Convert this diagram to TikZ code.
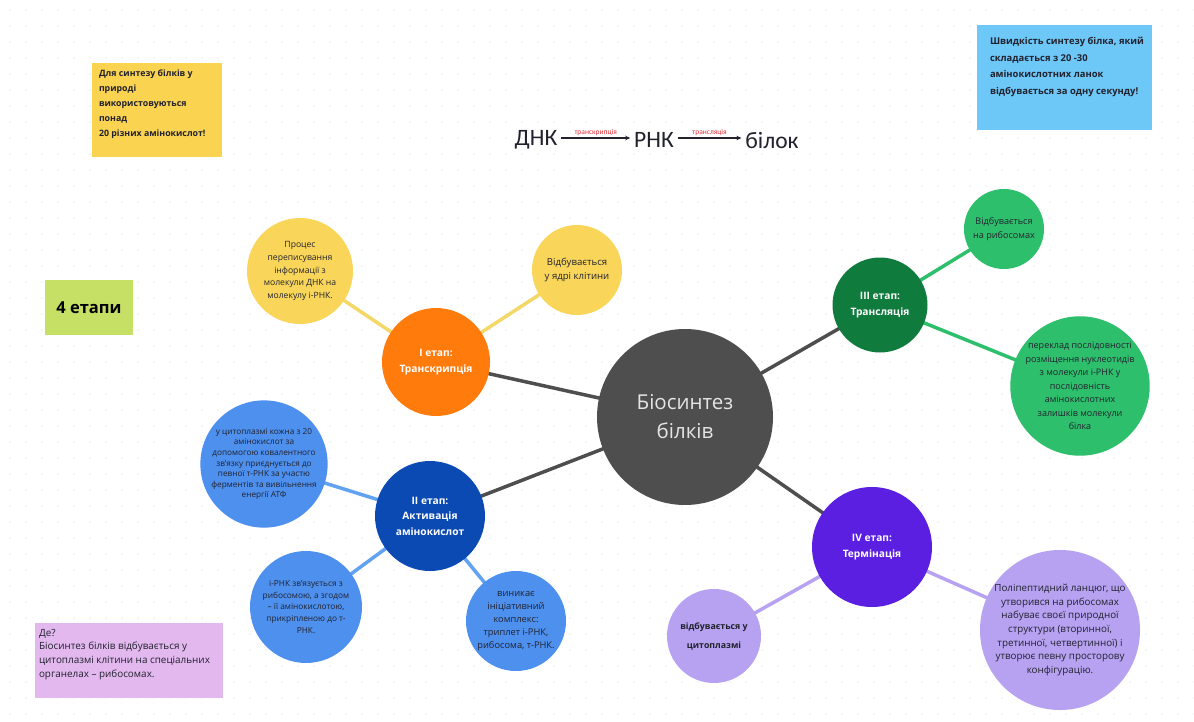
\documentclass[tikz,border=0pt]{standalone}
\usepackage{fontspec}
\setmainfont{Open Sans}
\newfontfamily\formfont{Carlito}
\usetikzlibrary{arrows.meta}
\definecolor{bgdot}{HTML}{DCDCDC}
\definecolor{cgrey}{HTML}{4E4E4E}
\definecolor{corange}{HTML}{FF7B0C}
\definecolor{cyellow}{HTML}{F9D65A}
\definecolor{cyline}{HTML}{F3D867}
\definecolor{cdblue}{HTML}{0B4AB3}
\definecolor{clblue}{HTML}{4D90EE}
\definecolor{clbline}{HTML}{62A2F2}
\definecolor{cdgreen}{HTML}{0F7B3D}
\definecolor{clgreen}{HTML}{2EBF6D}
\definecolor{cpurple}{HTML}{5A1FE0}
\definecolor{clpurple}{HTML}{B6A2F1}
\definecolor{cnoteyellow}{HTML}{FAD350}
\definecolor{cnoteblue}{HTML}{6DC7F7}
\definecolor{cnotelime}{HTML}{C6E066}
\definecolor{cnotepink}{HTML}{E2B8EE}
\definecolor{ctext}{HTML}{22222E}
\definecolor{cred}{HTML}{E0303A}
\pgfdeclarelayer{gridlayer}
\pgfdeclarelayer{edgelayer}
\pgfsetlayers{gridlayer,edgelayer,main}
\begin{document}
\begin{tikzpicture}[x=1pt,y=-1pt,
  every node/.style={inner sep=0pt,outer sep=0pt},
  bubble/.style={circle,minimum size=#1,align=center,text=ctext},
  stagetext/.style={text=white,font=\bfseries\fontsize{10.2}{15.5}\selectfont},
  greyedge/.style={draw=cgrey,line width=3.5pt},
  yedge/.style={draw=cyline,line width=3.5pt},
  bedge/.style={draw=clbline,line width=3.5pt},
  gedge/.style={draw=clgreen,line width=3.5pt},
  pedge/.style={draw=clpurple,line width=3.5pt},
  arrowlabel/.style={text=cred,font=\formfont\fontsize{7.5}{8}\selectfont,above=2pt}
]
\useasboundingbox (0,0) rectangle (1194,722);
\begin{pgfonlayer}{gridlayer}
\fill[white] (0,0) rectangle (1194,722);
\foreach \x in {10,26,...,1194} {
  \foreach \y in {10,26,...,722} {
    \fill[bgdot] (\x,\y) circle (0.7);
  }
}
\end{pgfonlayer}

% notes
\fill[cnoteyellow] (92,63) rectangle (222,157);
\node[anchor=north west,align=left,text=ctext,font=\bfseries\fontsize{8.8}{15}\selectfont] (noteY) at (99,70)
  {Для синтезу білків у\\природі\\використовуються\\понад\\20 різних амінокислот!};

\fill[cnoteblue] (977,25) rectangle (1152,130);
\node[anchor=north west,align=left,text=ctext,font=\bfseries\fontsize{9.4}{16.7}\selectfont] (noteB) at (990,37)
  {Швидкість синтезу білка, який\\складається з 20 -30\\амінокислотних ланок\\відбувається за одну секунду!};

\fill[cnotelime] (45,280) rectangle (133,335);
\node[font=\bfseries\fontsize{16.5}{18}\selectfont,text=black] (noteL) at (89,307.5) {4 етапи};

\fill[cnotepink] (35,623) rectangle (223,698);
\node[anchor=north west,align=left,text=ctext,font=\fontsize{9.9}{13.7}\selectfont] (noteP) at (39,629)
  {Де?\\Біосинтез білків відбувається у\\цитоплазмі клітини на спеціальних\\органелах – рибосомах.};

% formula
\node[font=\formfont\fontsize{23.5}{26}\selectfont,text=ctext] (dnk) at (536,140) {ДНК};
\node[font=\formfont\fontsize{23.5}{26}\selectfont,text=ctext] (rnk) at (654,140) {РНК};
\node[font=\formfont\fontsize{23.5}{26}\selectfont,text=ctext] (bilok) at (772,140) {білок};
\draw[-{Stealth[length=5pt,width=4.5pt]},line width=1.3pt,ctext] ([xshift=4pt,yshift=2pt]dnk.east) -- node[arrowlabel]{транскрипція} ([xshift=-4pt,yshift=2pt]rnk.west);
\draw[-{Stealth[length=5pt,width=4.5pt]},line width=1.3pt,ctext] ([xshift=4pt,yshift=2pt]rnk.east) -- node[arrowlabel]{трансляція} ([xshift=-4pt,yshift=2pt]bilok.west);

% centre and stages
\node[bubble=176pt,fill=cgrey,text=white!90!black,font=\fontsize{20.5}{29}\selectfont] (c) at (685,417) {Біосинтез\\білків};
\node[bubble=108pt,fill=corange,stagetext] (s1) at (436,362) {І етап:\\Транскрипція};
\node[bubble=110pt,fill=cdblue,stagetext] (s2) at (430,516) {ІІ етап:\\Активація\\амінокислот};
\node[bubble=95pt,fill=cdgreen,stagetext] (s3) at (880,305) {ІІІ етап:\\Трансляція};
\node[bubble=120pt,fill=cpurple,stagetext] (s4) at (872,547) {IV етап:\\Термінація};

% leaves
\node[bubble=106pt,fill=cyellow,font=\fontsize{8.6}{12.7}\selectfont] (y1) at (300,271)
  {Процес\\переписування\\інформації з\\молекули ДНК на\\молекулу і-РНК.};
\node[bubble=90pt,fill=cyellow,font=\fontsize{9.6}{13.5}\selectfont] (y2) at (577,270)
  {Відбувається\\у ядрі клітини};
\node[bubble=114pt,fill=clblue,font=\fontsize{8.2}{10.6}\selectfont] (b1) at (264,464)
  {у цитоплазмі кожна з 20\\амінокислот за\\допомогою ковалентного\\зв'язку приєднується до\\певної т-РНК за участю\\ферментів та вивільнення\\енергії АТФ};
\node[bubble=112pt,fill=clblue,font=\fontsize{8.3}{11.8}\selectfont] (b2) at (306,607)
  {і-РНК зв'язується з\\рибосомою, а згодом\\– її амінокислотою,\\прикріпленою до т-\\РНК.};
\node[bubble=100pt,fill=clblue,font=\fontsize{9.3}{12.8}\selectfont] (b3) at (516,621)
  {виникає\\ініціативний\\комплекс:\\триплет і-РНК,\\рибосома, т-РНК.};
\node[bubble=80pt,fill=clgreen,font=\fontsize{9.1}{14}\selectfont] (g1) at (1004,229)
  {Відбувається\\на рибосомах};
\node[bubble=136pt,fill=clgreen,font=\fontsize{9}{13.5}\selectfont] (g2) at (1080,386)
  {переклад послідовності\\розміщення нуклеотидів\\з молекули і-РНК у\\послідовність\\амінокислотних\\залишків молекули\\білка};
\node[bubble=94pt,fill=clpurple,font=\bfseries\fontsize{8.8}{19}\selectfont] (p1) at (714,636)
  {відбувається у\\цитоплазмі};
\node[bubble=146pt,fill=clpurple,font=\fontsize{9.8}{13.6}\selectfont] (p2) at (1060,630)
  {Поліпептидний ланцюг, що\\утворився на рибосомах\\набуває своєї природної\\структури (вторинної,\\третинної, четвертинної) і\\утворює певну просторову\\конфігурацію.};

% connectors
\begin{pgfonlayer}{edgelayer}
\draw[greyedge] (c.center) -- (s1.center);
\draw[greyedge] (c.center) -- (s2.center);
\draw[greyedge] (c.center) -- (s3.center);
\draw[greyedge] (c.center) -- (s4.center);
\draw[yedge] (s1.center) -- (y1.center);
\draw[yedge] (s1.center) -- (y2.center);
\draw[bedge] (s2.center) -- (b1.center);
\draw[bedge] (s2.center) -- (b2.center);
\draw[bedge] (s2.center) -- (b3.center);
\draw[gedge] (s3.center) -- (g1.center);
\draw[gedge] (s3.center) -- (g2.center);
\draw[pedge] (s4.center) -- (p1.center);
\draw[pedge] (s4.center) -- (p2.center);
\end{pgfonlayer}
\end{tikzpicture}
\end{document}
